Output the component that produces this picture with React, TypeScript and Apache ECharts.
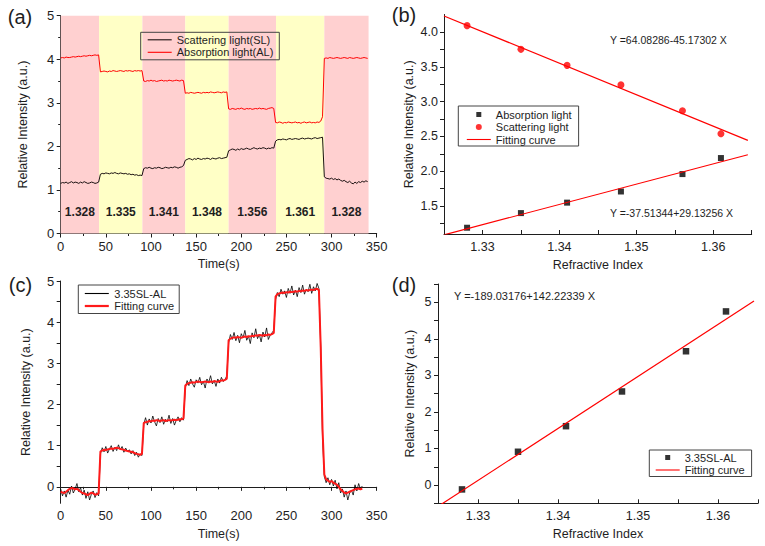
import { useEffect, useRef } from "react";
import * as echarts from "echarts";

// ---------- Panel (a): time traces ----------
const SAMPLE_STEP_S = 2;
const A_SEG_STARTS = [0, 44, 92, 138, 186, 238, 292];
const AL_A_SEGS = [
  [4.03, 4.04, 4.03, 4.05, 4.04, 4.04, 4.05, 4.06, 4.05, 4.06, 4.07, 4.06, 4.07, 4.08, 4.07, 4.08, 4.09, 4.08, 4.09, 4.1, 4.09, 4.1],
  [3.71, 3.72, 3.73, 3.72, 3.71, 3.73, 3.72, 3.74, 3.73, 3.72, 3.73, 3.74, 3.73, 3.72, 3.74, 3.73, 3.74, 3.73, 3.72, 3.74, 3.73, 3.74, 3.73, 3.74],
  [3.5, 3.49, 3.51, 3.5, 3.52, 3.5, 3.51, 3.49, 3.5, 3.51, 3.52, 3.5, 3.51, 3.5, 3.52, 3.51, 3.5, 3.51, 3.52, 3.51, 3.5, 3.52, 3.51],
  [3.22, 3.23, 3.22, 3.24, 3.23, 3.22, 3.23, 3.24, 3.23, 3.22, 3.24, 3.23, 3.24, 3.23, 3.25, 3.24, 3.23, 3.24, 3.25, 3.24, 3.23, 3.25, 3.24, 3.25],
  [2.86, 2.85, 2.87, 2.86, 2.85, 2.87, 2.86, 2.88, 2.86, 2.85, 2.87, 2.86, 2.87, 2.85, 2.86, 2.87, 2.86, 2.88, 2.86, 2.87, 2.86, 2.85, 2.87, 2.88, 2.89, 2.87],
  [2.55, 2.54, 2.56, 2.55, 2.53, 2.55, 2.54, 2.56, 2.55, 2.54, 2.55, 2.56, 2.54, 2.55, 2.53, 2.55, 2.56, 2.54, 2.55, 2.56, 2.54, 2.55, 2.54, 2.56, 2.55, 2.58, 2.68],
  [4.02, 4.03, 4.02, 4.04, 4.03, 4.02, 4.03, 4.04, 4.03, 4.02, 4.03, 4.04, 4.03, 4.02, 4.04, 4.03, 4.02, 4.03, 4.04, 4.03, 4.02, 4.03, 4.04, 4.03, 4.02],
];
const SL_A_SEGS = [
  [1.15, 1.17, 1.16, 1.18, 1.15, 1.17, 1.19, 1.16, 1.18, 1.17, 1.15, 1.18, 1.16, 1.19, 1.17, 1.15, 1.16, 1.18, 1.17, 1.15, 1.16, 1.18],
  [1.36, 1.38, 1.37, 1.39, 1.38, 1.37, 1.39, 1.38, 1.4, 1.38, 1.37, 1.39, 1.38, 1.37, 1.38, 1.36, 1.37, 1.35, 1.36, 1.34, 1.35, 1.33, 1.34, 1.33],
  [1.49, 1.51, 1.5, 1.52, 1.5, 1.49, 1.51, 1.5, 1.52, 1.51, 1.49, 1.5, 1.52, 1.51, 1.5, 1.52, 1.51, 1.53, 1.52, 1.5, 1.52, 1.53, 1.56],
  [1.68, 1.7, 1.72, 1.71, 1.69, 1.72, 1.7, 1.73, 1.71, 1.7, 1.72, 1.71, 1.73, 1.72, 1.7, 1.73, 1.72, 1.71, 1.73, 1.74, 1.72, 1.73, 1.74, 1.75],
  [1.9, 1.92, 1.94, 1.93, 1.91, 1.94, 1.92, 1.95, 1.93, 1.94, 1.96, 1.94, 1.93, 1.95, 1.97, 1.95, 1.94, 1.96, 1.95, 1.97, 1.96, 1.94, 1.96, 1.95, 1.97, 1.96],
  [2.12, 2.15, 2.16, 2.15, 2.17, 2.16, 2.15, 2.17, 2.18, 2.16, 2.17, 2.18, 2.17, 2.16, 2.18, 2.19, 2.17, 2.18, 2.19, 2.18, 2.17, 2.19, 2.2, 2.18, 2.19, 2.2, 2.21],
  [1.3, 1.27, 1.26, 1.25, 1.27, 1.24, 1.26, 1.23, 1.25, 1.22, 1.2, 1.22, 1.19, 1.17, 1.2, 1.16, 1.14, 1.18, 1.15, 1.19, 1.17, 1.2, 1.18, 1.21, 1.19],
];
const BAND_EDGES = [0, 42.5, 90.5, 138, 186, 238.5, 292, 341];
const BAND_LABELS = ["1.328", "1.335", "1.341", "1.348", "1.356", "1.361", "1.328"];
const BAND_COLORS = ["#FFD0D0", "#FFFFC6", "#FFD0D0", "#FFFFC6", "#FFD0D0", "#FFFFC6", "#FFD0D0"];

// ---------- Panel (b) and (d): calibration points ----------
const RI = [1.328, 1.335, 1.341, 1.348, 1.356, 1.361];
const ABS_B = [1.19, 1.4, 1.55, 1.71, 1.96, 2.19];
const SCAT_B = [4.09, 3.75, 3.52, 3.24, 2.87, 2.54];
const FIT_B_UPPER = [64.08286, -45.17302];
const FIT_B_LOWER = [-37.51344, 29.13256];
const FIT_X_RANGE = [1.325, 1.3645];
const PTS_D = [-0.12, 0.91, 1.61, 2.56, 3.66, 4.75];
const FIT_D = [-189.03176, 142.22339];

// ---------- Panel (c): 3.35SL-AL ----------
const C_SEG_STARTS = [0, 44, 92, 138, 186, 238, 288];
const RAW_C_SEGS = [
  [-0.05, -0.22, -0.1, -0.25, -0.08, -0.18, 0.02, -0.15, -0.05, 0.08, -0.12, -0.02, -0.2, -0.08, -0.28, -0.12, -0.32, -0.18, -0.1, -0.26, -0.14, -0.22],
  [0.8, 0.95, 0.85, 0.98, 0.82, 0.92, 1.0, 0.86, 0.96, 0.88, 1.02, 0.9, 0.98, 0.84, 0.94, 0.86, 0.9, 0.8, 0.88, 0.76, 0.84, 0.72, 0.8, 0.76],
  [1.52, 1.68, 1.5, 1.65, 1.55, 1.72, 1.58, 1.48, 1.66, 1.56, 1.7, 1.52, 1.64, 1.58, 1.74, 1.54, 1.66, 1.5, 1.62, 1.7, 1.58, 1.68, 1.62],
  [2.4, 2.58, 2.46, 2.62, 2.5, 2.42, 2.6, 2.52, 2.66, 2.48, 2.56, 2.4, 2.62, 2.54, 2.7, 2.5, 2.58, 2.44, 2.62, 2.52, 2.66, 2.56, 2.6, 2.7],
  [3.5, 3.7, 3.58, 3.75, 3.55, 3.68, 3.5, 3.72, 3.62, 3.8, 3.56, 3.66, 3.48, 3.74, 3.62, 3.84, 3.6, 3.7, 3.52, 3.76, 3.64, 3.86, 3.58, 3.68, 3.74, 3.8],
  [4.55, 4.72, 4.62, 4.8, 4.68, 4.76, 4.6, 4.82, 4.7, 4.88, 4.66, 4.78, 4.62, 4.84, 4.72, 4.9, 4.68, 4.8, 4.74, 4.92, 4.7, 4.86, 4.76, 4.94, 4.82],
  [3.4, 1.2, 0.25, 0.1, 0.22, 0.05, 0.18, 0.02, 0.16, -0.05, 0.1, -0.15, -0.05, -0.25, -0.1, -0.32, -0.15, -0.08, -0.2, 0.05, -0.1, 0.08, -0.05, 0.02],
];
const FIT_C_SEGS = [
  [-0.12, -0.14, -0.15, -0.12, -0.08, -0.05, -0.03, -0.04, -0.06, -0.05, -0.08, -0.12, -0.15, -0.16, -0.18, -0.2, -0.17, -0.14, -0.16, -0.19, -0.18, -0.16],
  [0.86, 0.88, 0.9, 0.89, 0.91, 0.92, 0.93, 0.92, 0.94, 0.95, 0.94, 0.92, 0.91, 0.9, 0.88, 0.87, 0.86, 0.85, 0.84, 0.82, 0.8, 0.79, 0.78, 0.8],
  [1.55, 1.57, 1.58, 1.6, 1.59, 1.61, 1.6, 1.62, 1.61, 1.6, 1.61, 1.62, 1.6, 1.61, 1.62, 1.61, 1.62, 1.63, 1.62, 1.63, 1.64, 1.64, 1.66],
  [2.46, 2.5, 2.52, 2.53, 2.54, 2.53, 2.55, 2.56, 2.55, 2.54, 2.55, 2.56, 2.55, 2.54, 2.56, 2.55, 2.57, 2.56, 2.55, 2.57, 2.58, 2.58, 2.6, 2.63],
  [3.56, 3.6, 3.62, 3.63, 3.62, 3.64, 3.63, 3.62, 3.64, 3.65, 3.64, 3.66, 3.65, 3.67, 3.66, 3.68, 3.67, 3.69, 3.68, 3.67, 3.69, 3.68, 3.7, 3.69, 3.71, 3.74],
  [4.62, 4.68, 4.7, 4.71, 4.72, 4.71, 4.73, 4.72, 4.74, 4.73, 4.74, 4.75, 4.74, 4.76, 4.75, 4.77, 4.76, 4.78, 4.77, 4.78, 4.79, 4.78, 4.8, 4.81, 4.78],
  [3.4, 1.4, 0.3, 0.18, 0.15, 0.12, 0.14, 0.1, 0.08, 0.05, 0.0, -0.06, -0.1, -0.14, -0.16, -0.14, -0.12, -0.1, -0.08, -0.06, -0.05, -0.04, -0.06, -0.04],
];

// ---------- ticks ----------
const B_Y_LABELS = [1.5, 2, 2.5, 3, 3.5, 4];
const B_Y_TICKS = [1.25, 1.5, 1.75, 2, 2.25, 2.5, 2.75, 3, 3.25, 3.5, 3.75, 4];
const C_Y_LABELS = [0, 1, 2, 3, 4, 5];
const C_Y_TICKS = [0, 0.5, 1, 1.5, 2, 2.5, 3, 3.5, 4, 4.5, 5];

const LEGEND_TEXT: Record<string, string> = {
  SL_a: "Scattering light(SL)",
  AL_a: "Absorption light(AL)",
  abs_b: "Absorption light",
  scat_b: "Scattering light",
  fit_b1: "Fitting curve",
  raw_c: "3.35SL-AL",
  fit_c: "Fitting curve",
  pts_d: "3.35SL-AL",
  fit_d: "Fitting curve",
};

const FONT = '"Liberation Sans", Arial, sans-serif';
const INK = "#1e1e1e";
const SQUARE_ICON = "path://M0,0M24,10M9.5,2.5h5v5h-5z";
const CIRCLE_ICON = "path://M0,0M24,10M15,5a3,3 0 1,1 -6,0a3,3 0 1,1 6,0z";
const THIN_LINE_ICON = "path://M0,0M24,10M0,4.45h24v1.1h-24z";
const THICK_LINE_ICON = "path://M0,0M24,10M0,3.9h24v2.2h-24z";

function segPairs(starts: number[], segs: number[][]) {
  const out: number[][] = [];
  segs.forEach((seg, s) => {
    seg.forEach((v, i) => out.push([starts[s] + i * SAMPLE_STEP_S, v]));
  });
  return out;
}
function fitLine(coef: number[]) {
  return FIT_X_RANGE.map((x) => [x, coef[0] + coef[1] * x]);
}

function xTimeAxis(gridIndex: number) {
  return {
    type: "value",
    gridIndex,
    min: 0,
    max: 350,
    interval: 50,
    name: "Time(s)",
    nameLocation: "middle",
    nameGap: 24,
    nameTextStyle: { fontSize: 12.5, color: INK, fontFamily: FONT },
    axisLine: { show: true, lineStyle: { color: INK, width: 1 } },
    axisTick: { show: true, inside: false, length: 4, lineStyle: { color: INK } },
    minorTick: { show: true, splitNumber: 2, length: 2.5, lineStyle: { color: INK } },
    axisLabel: { fontSize: 13, margin: 6, color: INK, fontFamily: FONT },
    splitLine: { show: false },
    minorSplitLine: { show: false },
  };
}
function xRIAxis(gridIndex: number) {
  return {
    type: "value",
    gridIndex,
    min: 1.325,
    max: 1.365,
    interval: 0.005,
    name: "Refractive Index",
    nameLocation: "middle",
    nameGap: 24,
    nameTextStyle: { fontSize: 12.5, color: INK, fontFamily: FONT },
    axisLine: { show: true, onZero: false, lineStyle: { color: INK, width: 1 } },
    axisTick: { show: true, inside: true, length: 4, lineStyle: { color: INK } },
    axisLabel: {
      fontSize: 12.5,
      margin: 6,
      color: INK,
      fontFamily: FONT,
      formatter: (v: number) => (Math.abs(v * 100 - Math.round(v * 100)) < 1e-6 ? v.toFixed(2) : ""),
    },
    splitLine: { show: false },
  };
}
function yAxisBase(gridIndex: number, nameGap: number) {
  return {
    type: "value",
    gridIndex,
    name: "Relative Intensity (a.u.)",
    nameLocation: "middle",
    nameGap,
    nameTextStyle: { fontSize: 12.5, color: INK, fontFamily: FONT },
    axisLine: { show: true, onZero: false, lineStyle: { color: INK, width: 1 } },
    splitLine: { show: false },
  };
}

function buildOption() {
  const tickStyle = { lineStyle: { color: INK } };
  const labelBase = { fontSize: 13, margin: 6.5, color: INK, fontFamily: FONT };
  const legendBase = {
    orient: "vertical",
    borderColor: "#444",
    borderWidth: 1,
    itemHeight: 10,
    itemGap: 1.5,
    selectedMode: false,
    textStyle: { fontSize: 11, color: INK, fontFamily: FONT },
    formatter: (n: string) => LEGEND_TEXT[n] ?? n,
  };

  return {
    animation: false,
    backgroundColor: "#ffffff",
    grid: [
      { left: 60.7, top: 15.7, width: 316, height: 217.8, outerBoundsMode: "none", containLabel: false },
      { left: 444, top: 14.5, width: 307.7, height: 219.5, outerBoundsMode: "none", containLabel: false },
      { left: 60.7, top: 281, width: 316, height: 222.3, outerBoundsMode: "none", containLabel: false },
      { left: 438, top: 284, width: 320, height: 219.3, outerBoundsMode: "none", containLabel: false },
    ],
    xAxis: [xTimeAxis(0), xRIAxis(1), xTimeAxis(2), xRIAxis(3)],
    yAxis: [
      {
        ...yAxisBase(0, 31),
        min: 0,
        max: 5,
        interval: 1,
        axisTick: { show: true, inside: false, length: 4, ...tickStyle },
        minorTick: { show: true, splitNumber: 2, length: 2.5, ...tickStyle },
        minorSplitLine: { show: false },
        axisLabel: labelBase,
      },
      {
        ...yAxisBase(1, 29),
        min: 1.1,
        max: 4.25,
        axisTick: { show: true, inside: false, length: 4, customValues: B_Y_TICKS, ...tickStyle },
        axisLabel: {
          ...labelBase,
          fontSize: 12.5,
          margin: 6,
          customValues: B_Y_LABELS,
          formatter: (v: number) => v.toFixed(1),
        },
      },
      {
        ...yAxisBase(2, 28.5),
        min: -0.4,
        max: 5,
        axisTick: { show: true, inside: false, length: 4, customValues: C_Y_TICKS, ...tickStyle },
        axisLabel: { ...labelBase, customValues: C_Y_LABELS },
      },
      {
        ...yAxisBase(3, 22),
        min: -0.5,
        max: 5.5,
        interval: 0.5,
        axisTick: { show: true, inside: false, length: 4, ...tickStyle },
        axisLabel: {
          ...labelBase,
          fontSize: 12.5,
          formatter: (v: number) => (Math.abs(v - Math.round(v)) < 1e-6 ? String(Math.round(v)) : ""),
        },
      },
    ],
    legend: [
      {
        ...legendBase,
        left: 140.7,
        top: 32.3,
        padding: [2, 6, 2, 7],
        itemWidth: 24,
        data: [
          { name: "SL_a", icon: THIN_LINE_ICON },
          { name: "AL_a", icon: THIN_LINE_ICON },
        ],
      },
      {
        ...legendBase,
        left: 458.3,
        top: 106,
        padding: [3, 7, 1, 8.5],
        itemWidth: 24,
        data: [
          { name: "abs_b", icon: SQUARE_ICON },
          { name: "scat_b", icon: CIRCLE_ICON },
          { name: "fit_b1", icon: THIN_LINE_ICON },
        ],
      },
      {
        ...legendBase,
        left: 78.3,
        top: 285,
        padding: [3, 5, 2, 6.5],
        itemWidth: 25,
        data: [
          { name: "raw_c", icon: THIN_LINE_ICON },
          { name: "fit_c", icon: THICK_LINE_ICON },
        ],
      },
      {
        ...legendBase,
        left: 649.3,
        top: 450,
        padding: [2, 7, 1, 6.4],
        itemWidth: 24,
        data: [
          { name: "pts_d", icon: SQUARE_ICON },
          { name: "fit_d", icon: THIN_LINE_ICON },
        ],
      },
    ],
    graphic: [
      { type: "text", x: 20, y: 17, style: { text: "(a)", font: `20px ${FONT}`, fill: INK, textAlign: "center", textVerticalAlign: "middle" } },
      { type: "text", x: 404, y: 15, style: { text: "(b)", font: `20px ${FONT}`, fill: INK, textAlign: "center", textVerticalAlign: "middle" } },
      { type: "text", x: 20.5, y: 285, style: { text: "(c)", font: `20px ${FONT}`, fill: INK, textAlign: "center", textVerticalAlign: "middle" } },
      { type: "text", x: 404, y: 285, style: { text: "(d)", font: `20px ${FONT}`, fill: INK, textAlign: "center", textVerticalAlign: "middle" } },
      { type: "text", x: 610, y: 40, style: { text: "Y =64.08286-45.17302 X", font: `10.5px ${FONT}`, fill: INK, textAlign: "left", textVerticalAlign: "middle" } },
      { type: "text", x: 610, y: 213.3, style: { text: "Y =-37.51344+29.13256 X", font: `10.5px ${FONT}`, fill: INK, textAlign: "left", textVerticalAlign: "middle" } },
      { type: "text", x: 454, y: 296, style: { text: "Y =-189.03176+142.22339 X", font: `11px ${FONT}`, fill: INK, textAlign: "left", textVerticalAlign: "middle" } },
    ],
    series: [
      {
        name: "SL_a",
        type: "line",
        xAxisIndex: 0,
        yAxisIndex: 0,
        symbol: "none",
        color: "#1a1010",
        lineStyle: { width: 1, color: "#1a1010" },
        data: segPairs(A_SEG_STARTS, SL_A_SEGS),
        markArea: {
          silent: true,
          label: {
            show: true,
            position: "insideBottom",
            distance: 16,
            fontSize: 12,
            fontWeight: "bold",
            color: INK,
            fontFamily: FONT,
          },
          data: BAND_LABELS.map((lab, i) => [
            { name: lab, xAxis: BAND_EDGES[i], itemStyle: { color: BAND_COLORS[i], opacity: 1 } },
            { xAxis: BAND_EDGES[i + 1] },
          ]),
        },
      },
      {
        name: "AL_a",
        type: "line",
        xAxisIndex: 0,
        yAxisIndex: 0,
        symbol: "none",
        color: "#ff0000",
        lineStyle: { width: 1, color: "#ff0000" },
        data: segPairs(A_SEG_STARTS, AL_A_SEGS),
      },
      {
        name: "fit_b1",
        type: "line",
        xAxisIndex: 1,
        yAxisIndex: 1,
        symbol: "none",
        color: "#ff0000",
        lineStyle: { width: 1.2, color: "#ff0000" },
        data: fitLine(FIT_B_UPPER),
      },
      {
        name: "fit_b2",
        type: "line",
        xAxisIndex: 1,
        yAxisIndex: 1,
        symbol: "none",
        color: "#ff0000",
        lineStyle: { width: 1.2, color: "#ff0000" },
        data: fitLine(FIT_B_LOWER),
      },
      {
        name: "abs_b",
        type: "scatter",
        xAxisIndex: 1,
        yAxisIndex: 1,
        symbol: "rect",
        symbolSize: 6,
        color: "#000000",
        itemStyle: { color: "#000000" },
        data: RI.map((x, i) => [x, ABS_B[i]]),
      },
      {
        name: "scat_b",
        type: "scatter",
        xAxisIndex: 1,
        yAxisIndex: 1,
        symbol: "circle",
        symbolSize: 7,
        color: "#ff0000",
        itemStyle: { color: "#ff0000" },
        data: RI.map((x, i) => [x, SCAT_B[i]]),
      },
      {
        name: "raw_c",
        type: "line",
        xAxisIndex: 2,
        yAxisIndex: 2,
        symbol: "none",
        color: "#000000",
        lineStyle: { width: 0.8, color: "#000000" },
        data: segPairs(C_SEG_STARTS, RAW_C_SEGS),
      },
      {
        name: "fit_c",
        type: "line",
        xAxisIndex: 2,
        yAxisIndex: 2,
        symbol: "none",
        color: "#ff1a1a",
        lineStyle: { width: 2, color: "#ff1a1a" },
        data: segPairs(C_SEG_STARTS, FIT_C_SEGS),
      },
      {
        name: "fit_d",
        type: "line",
        xAxisIndex: 3,
        yAxisIndex: 3,
        symbol: "none",
        color: "#ff0000",
        lineStyle: { width: 1.2, color: "#ff0000" },
        data: fitLine(FIT_D),
      },
      {
        name: "pts_d",
        type: "scatter",
        xAxisIndex: 3,
        yAxisIndex: 3,
        symbol: "rect",
        symbolSize: 6.5,
        color: "#000000",
        itemStyle: { color: "#000000" },
        data: RI.map((x, i) => [x, PTS_D[i]]),
      },
    ],
  };
}

export default function App() {
  const ref = useRef<HTMLDivElement>(null);
  useEffect(() => {
    if (!ref.current) return;
    const chart = echarts.init(ref.current, undefined, { renderer: "svg" });
    chart.setOption(buildOption() as any);
    return () => chart.dispose();
  }, []);
  return (
    <div
      ref={ref}
      style={{ position: "absolute", left: 0, top: 0, width: 765, height: 546, background: "#fff" }}
    />
  );
}
